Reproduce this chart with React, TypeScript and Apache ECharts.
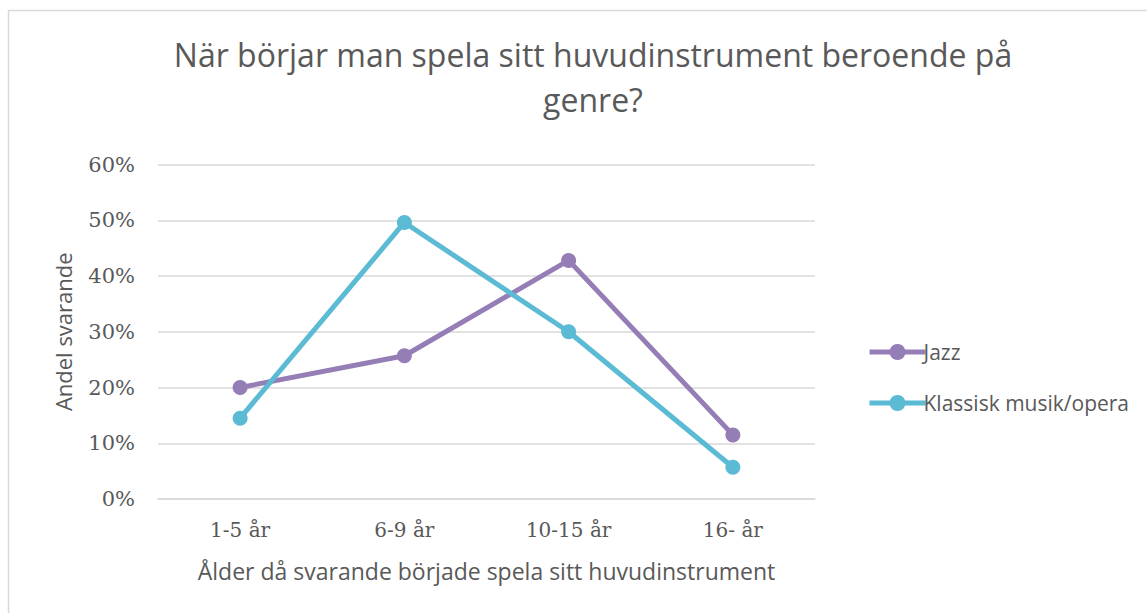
import React, { useEffect, useRef } from "react";
import * as echarts from "echarts";

const categories = ["1-5 år", "6-9 år", "10-15 år", "16- år"];
const jazz = [20.0, 25.7, 42.8, 11.5];
const klassisk = [14.5, 49.6, 30.0, 5.7];
const yTicks = [0, 10, 20, 30, 40, 50, 60];

const TITLE = "När börjar man spela sitt huvudinstrument beroende på\ngenre?";
const SANS = "'Open Sans', 'Noto Sans', sans-serif";
const SERIF = "'DejaVu Serif', serif";
const GRAY = "#595959";
const JAZZ_COLOR = "#957DB6";
const KLASSISK_COLOR = "#5BBAD4";

export default function App() {
  const ref = useRef<HTMLDivElement>(null);
  useEffect(() => {
    if (!ref.current) return;
    const chart = echarts.init(ref.current, undefined, { renderer: "svg" });
    chart.setOption({
      animation: false,
      backgroundColor: "#ffffff",
      title: {
        text: TITLE,
        left: 588,
        top: 27,
        textAlign: "center",
        textStyle: {
          fontFamily: SANS,
          fontSize: 32,
          fontWeight: "normal",
          color: GRAY,
          lineHeight: 45,
        },
      },
      graphic: [
        {
          type: "rect",
          shape: { x: 8.5, y: 10.5, width: 1200, height: 700 },
          style: { fill: "none", stroke: "#d9d9d9", lineWidth: 1.5 },
          silent: true,
        },
      ],
      legend: {
        orient: "vertical",
        left: 862,
        top: 336,
        itemWidth: 56,
        itemHeight: 20,
        itemGap: 29,
        lineStyle: { width: 5 },
        textStyle: {
          fontFamily: SANS,
          fontSize: 21,
          color: GRAY,
          lineHeight: 22,
          padding: [0, 0, 0, -7],
        },
        data: [
          { name: "Jazz", itemStyle: { color: JAZZ_COLOR }, lineStyle: { width: 5, color: JAZZ_COLOR } },
          {
            name: "Klassisk musik/opera",
            itemStyle: { color: KLASSISK_COLOR },
            lineStyle: { width: 5, color: KLASSISK_COLOR },
          },
        ],
      },
      grid: { left: 158, right: 332, top: 164.5, bottom: 114, containLabel: false },
      xAxis: {
        type: "category",
        data: categories,
        boundaryGap: true,
        axisLine: { show: true, lineStyle: { color: "#d9d9d9", width: 1.5 } },
        axisTick: { show: false },
        axisLabel: { fontFamily: SERIF, fontSize: 20, color: GRAY, margin: 21 },
        name: "Ålder då svarande började spela sitt huvudinstrument",
        nameLocation: "middle",
        nameGap: 60,
        nameTextStyle: { fontFamily: SANS, fontSize: 23, color: GRAY },
      },
      yAxis: {
        type: "value",
        min: 0,
        max: 60,
        interval: 10,
        axisLine: { show: false },
        axisTick: { show: false },
        splitLine: { lineStyle: { color: "#d9d9d9", width: 1.5 } },
        axisLabel: {
          fontFamily: SERIF,
          fontSize: 21,
          color: GRAY,
          margin: 23,
          formatter: (v: number) => (yTicks.includes(v) ? `${v}%` : ""),
        },
        name: "Andel svarande",
        nameLocation: "middle",
        nameGap: 84,
        nameRotate: 90,
        nameTextStyle: { fontFamily: SANS, fontSize: 22, color: GRAY },
      },
      series: [
        {
          name: "Jazz",
          type: "line",
          data: jazz,
          symbol: "circle",
          symbolSize: 15,
          lineStyle: { width: 5, color: JAZZ_COLOR },
          itemStyle: { color: JAZZ_COLOR },
        },
        {
          name: "Klassisk musik/opera",
          type: "line",
          data: klassisk,
          symbol: "circle",
          symbolSize: 15,
          lineStyle: { width: 5, color: KLASSISK_COLOR },
          itemStyle: { color: KLASSISK_COLOR },
        },
      ],
    });
    return () => chart.dispose();
  }, []);
  return (
    <div
      ref={ref}
      style={{ position: "absolute", left: 0, top: 0, width: 1147, height: 613 }}
    />
  );
}
